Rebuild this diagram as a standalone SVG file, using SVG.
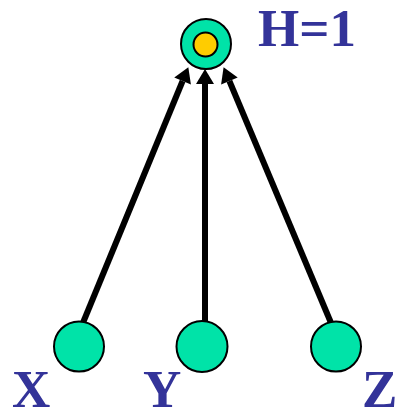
<svg xmlns="http://www.w3.org/2000/svg" width="396" height="410" viewBox="0 0 396 410">
<style>
.node{fill:#00E3A8;stroke:#000;stroke-width:2}
.inner{fill:#FFCC00;stroke:#000;stroke-width:2}
.lbl{font-family:"Liberation Serif",serif;font-weight:bold;font-size:53px;fill:#333399}
.edge{stroke:#000;stroke-width:6;fill:none}
</style>
<defs>
<marker id="ah" markerUnits="userSpaceOnUse" markerWidth="16" markerHeight="20" refX="0" refY="9" orient="auto" overflow="visible">
<path d="M0,0 L15,9 L0,18 z" fill="#000"/>
</marker>
</defs>
<rect width="396" height="410" fill="#fff"/>
<g id="connectors">
<line class="edge" x1="80" y1="330" x2="182.6" y2="81" marker-end="url(#ah)"/>
<line class="edge" x1="205" y1="330" x2="205" y2="84" marker-end="url(#ah)"/>
<line class="edge" x1="334" y1="330" x2="229.4" y2="81" marker-end="url(#ah)"/>
</g>
<g id="H">
<circle class="node" cx="206" cy="44" r="25"/>
<circle class="inner" cx="205.5" cy="44.5" r="12"/>
<text class="lbl" x="258" y="46">H=1</text>
</g>
<g id="X">
<circle class="node" cx="79" cy="346.5" r="25"/>
<text class="lbl" x="12" y="407">X</text>
</g>
<g id="Y">
<circle class="node" cx="202" cy="346.5" r="25.5"/>
<text class="lbl" x="143" y="407">Y</text>
</g>
<g id="Z">
<circle class="node" cx="336" cy="346.5" r="25"/>
<text class="lbl" x="362" y="407">Z</text>
</g>
</svg>
